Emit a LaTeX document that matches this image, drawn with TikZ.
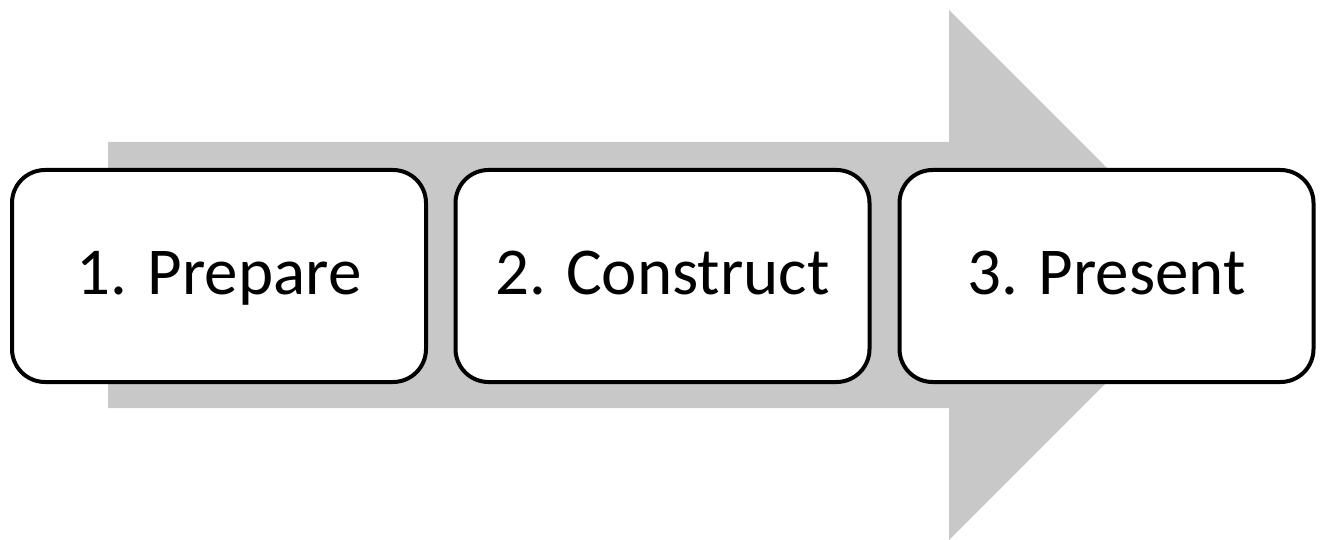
\documentclass[tikz,border=0pt]{standalone}
\usepackage{fontspec}
\setmainfont{Carlito}
\definecolor{arrowgray}{RGB}{200,200,200}
\begin{document}
\begin{tikzpicture}[x=1pt,y=-1pt,
  stepbox/.style={draw=black, line width=4pt, fill=white, rounded corners=33pt,
    minimum width=414pt, minimum height=212pt, inner sep=0pt,
    text height=48pt, text depth=12pt, font=\fontsize{67}{72}\selectfont},
  bigarrow/.style={fill=arrowgray, draw=none}]
\useasboundingbox (0,0) rectangle (1320,540);
\fill[bigarrow] (108,142) -- (949,142) -- (949,10) -- (1214,275) -- (949,540) -- (949,408) -- (108,408) -- cycle;
\node[stepbox] (prepare) at (219,276) {1. Prepare};
\node[stepbox] (construct) at (662.5,276) {2. Construct};
\node[stepbox] (present) at (1106.5,276) {3. Present};
\end{tikzpicture}
\end{document}
